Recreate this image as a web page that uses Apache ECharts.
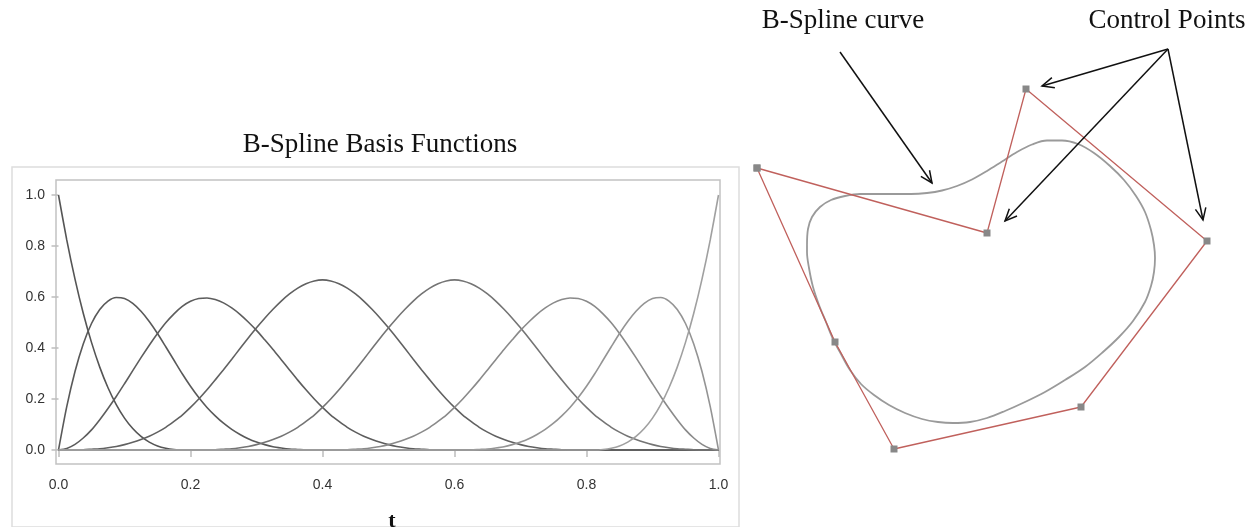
<!DOCTYPE html>
<html>
<head>
<meta charset="utf-8">
<script src="https://cdn.jsdelivr.net/npm/echarts@6/dist/echarts.min.js"></script>
<style>
html, body { margin: 0; padding: 0; background: #fff; }
#chart { width: 1257px; height: 527px; }
</style>
</head>
<body>
<div id="chart"></div>
<script>
// left panel: cubic B-spline basis functions, sampled every 0.0125
var tValues = [0,0.0125,0.025,0.0375,0.05,0.0625,0.075,0.0875,0.1,0.1125,0.125,0.1375,0.15,0.1625,0.175,0.1875,
  0.2,0.2125,0.225,0.2375,0.25,0.2625,0.275,0.2875,0.3,0.3125,0.325,0.3375,0.35,0.3625,0.375,0.3875,
  0.4,0.4125,0.425,0.4375,0.45,0.4625,0.475,0.4875,0.5,0.5125,0.525,0.5375,0.55,0.5625,0.575,0.5875,
  0.6,0.6125,0.625,0.6375,0.65,0.6625,0.675,0.6875,0.7,0.7125,0.725,0.7375,0.75,0.7625,0.775,0.7875,
  0.8,0.8125,0.825,0.8375,0.85,0.8625,0.875,0.8875,0.9,0.9125,0.925,0.9375,0.95,0.9625,0.975,0.9875,1];
var b0 = [1,0.824,0.670,0.536,0.422,0.325,0.244,0.178,0.125,0.084,0.053,0.031,0.016,0.007,0.002,0.000,0,
  0,0,0,0,0,0,0,0,0,0,0,0,0,0,0,0,
  0,0,0,0,0,0,0,0,0,0,0,0,0,0,0,0,
  0,0,0,0,0,0,0,0,0,0,0,0,0,0,0,0,
  0,0,0,0,0,0,0,0,0,0,0,0,0,0,0,0];
var b1 = [0,0.170,0.308,0.416,0.496,0.551,0.584,0.598,0.594,0.575,0.544,0.504,0.457,0.405,0.352,0.299,0.250,
  0.206,0.167,0.134,0.105,0.081,0.061,0.044,0.031,0.021,0.013,0.008,0.004,0.002,0.000,0.000,0,
  0,0,0,0,0,0,0,0,0,0,0,0,0,0,0,0,
  0,0,0,0,0,0,0,0,0,0,0,0,0,0,0,0,
  0,0,0,0,0,0,0,0,0,0,0,0,0,0,0,0];
var b2 = [0,0.006,0.022,0.047,0.079,0.119,0.163,0.210,0.260,0.311,0.362,0.411,0.457,0.499,0.534,0.563,0.583,
  0.594,0.596,0.590,0.577,0.557,0.532,0.502,0.469,0.432,0.394,0.354,0.314,0.274,0.236,0.200,0.167,
  0.137,0.112,0.089,0.070,0.054,0.041,0.030,0.021,0.014,0.009,0.005,0.003,0.001,0.000,0.000,0,
  0,0,0,0,0,0,0,0,0,0,0,0,0,0,0,0,
  0,0,0,0,0,0,0,0,0,0,0,0,0,0,0,0];
var b3 = [0,0.000,0.000,0.001,0.003,0.005,0.009,0.014,0.021,0.030,0.041,0.054,0.070,0.089,0.112,0.137,0.167,
  0.200,0.236,0.275,0.315,0.356,0.398,0.439,0.479,0.517,0.552,0.584,0.612,0.635,0.652,0.663,0.667,
  0.663,0.652,0.635,0.612,0.584,0.552,0.517,0.479,0.439,0.398,0.356,0.315,0.275,0.236,0.200,0.167,
  0.137,0.112,0.089,0.070,0.054,0.041,0.030,0.021,0.014,0.009,0.005,0.003,0.001,0.000,0.000,0,
  0,0,0,0,0,0,0,0,0,0,0,0,0,0,0,0];
var b4 = [0,0,0,0,0,0,0,0,0,0,0,0,0,0,0,0,0,
  0.000,0.000,0.001,0.003,0.005,0.009,0.014,0.021,0.030,0.041,0.054,0.070,0.089,0.112,0.137,0.167,
  0.200,0.236,0.275,0.315,0.356,0.398,0.439,0.479,0.517,0.552,0.584,0.612,0.635,0.652,0.663,0.667,
  0.663,0.652,0.635,0.612,0.584,0.552,0.517,0.479,0.439,0.398,0.356,0.315,0.275,0.236,0.200,0.167,
  0.137,0.112,0.089,0.070,0.054,0.041,0.030,0.021,0.014,0.009,0.005,0.003,0.001,0.000,0.000,0];
var b5 = [0,0,0,0,0,0,0,0,0,0,0,0,0,0,0,0,0,
  0,0,0,0,0,0,0,0,0,0,0,0,0,0,0,0,
  0.000,0.000,0.001,0.003,0.005,0.009,0.014,0.021,0.030,0.041,0.054,0.070,0.089,0.112,0.137,0.167,
  0.200,0.236,0.274,0.314,0.354,0.394,0.432,0.469,0.502,0.532,0.557,0.577,0.590,0.596,0.594,0.583,
  0.563,0.534,0.499,0.457,0.411,0.362,0.311,0.260,0.210,0.163,0.119,0.079,0.047,0.022,0.006,0];
var b6 = [0,0,0,0,0,0,0,0,0,0,0,0,0,0,0,0,0,
  0,0,0,0,0,0,0,0,0,0,0,0,0,0,0,0,
  0,0,0,0,0,0,0,0,0,0,0,0,0,0,0,0,
  0.000,0.000,0.002,0.004,0.008,0.013,0.021,0.031,0.044,0.061,0.081,0.105,0.134,0.167,0.206,0.250,
  0.299,0.352,0.405,0.457,0.504,0.544,0.575,0.594,0.598,0.584,0.551,0.496,0.416,0.308,0.170,0];
var b7 = [0,0,0,0,0,0,0,0,0,0,0,0,0,0,0,0,0,
  0,0,0,0,0,0,0,0,0,0,0,0,0,0,0,0,
  0,0,0,0,0,0,0,0,0,0,0,0,0,0,0,0,
  0,0,0,0,0,0,0,0,0,0,0,0,0,0,0,0,
  0.000,0.002,0.007,0.016,0.031,0.053,0.084,0.125,0.178,0.244,0.325,0.422,0.536,0.670,0.824,1];
var basis = [b0, b1, b2, b3, b4, b5, b6, b7];
var basisColors = ['#555555', '#595959', '#5d5d5d', '#616161', '#747474', '#8a8a8a', '#949494', '#a0a0a0'];

// right panel: control polygon and the closed curve (picture units)
var cpX = [757, 987, 1026, 1207, 1081, 894, 835];
var cpY = [168, 233, 89, 241, 407, 449, 342];
var curveX = [807,808,812,820,831,845,860,877,894,911,927,942,957,972,987,1002,1017,1032,1047,1062,1078,
  1094,1110,1124,1136,1145,1151,1154,1155,1154,1151,1145,1133,1119,1103,1085,1065,1045,1025,1005,987,970,953,
  938,922,905,889,874,861,850,841,833,826,819,813,809,807,807];
var curveY = [245,229,217,207,200,196,194,194,194,194,193,190.5,186,179.5,171,161.5,152,144.5,140.5,140.5,144,
  153,166,180,196,212,230,245,258,272,286,302,321,337,352,367,380,392,402,411,418,422,423,
  422,419,413,405,395,384,370,354,339,322,305,287,268,252,245];

// annotation arrows
var arrowFromX = [840, 1168, 1168, 1168];
var arrowFromY = [52, 49, 49, 49];
var arrowToX = [932, 1042, 1005, 1203];
var arrowToY = [183, 86, 221, 220];

var chart = echarts.init(document.getElementById('chart'));

var serif = 'Liberation Serif';
var sans = 'Liberation Sans';

var series = basis.map(function (vals, i) {
  return {
    type: 'line',
    xAxisIndex: 0,
    yAxisIndex: 0,
    data: tValues.map(function (t, j) { return [t, vals[j]]; }),
    showSymbol: false,
    smooth: 0.25,
    clip: false,
    lineStyle: { color: basisColors[i], width: 1.6 },
    z: 3
  };
});

var polygon = cpX.map(function (x, i) { return [x, cpY[i]]; });
polygon.push([cpX[0], cpY[0]]);

series.push({
  type: 'line',
  xAxisIndex: 3,
  yAxisIndex: 3,
  data: curveX.map(function (x, i) { return [x, curveY[i]]; }),
  showSymbol: false,
  smooth: 0.35,
  clip: false,
  lineStyle: { color: '#9a9a9a', width: 1.8 }
});
series.push({
  type: 'line',
  xAxisIndex: 3,
  yAxisIndex: 3,
  data: polygon,
  symbol: 'rect',
  symbolSize: 7,
  showSymbol: true,
  clip: false,
  itemStyle: { color: '#888888' },
  lineStyle: { color: '#c0605c', width: 1.3 },
  z: 4
});
series.push({
  type: 'custom',
  xAxisIndex: 3,
  yAxisIndex: 3,
  silent: true,
  clip: false,
  data: arrowFromX.map(function (x, i) { return [x, arrowFromY[i], arrowToX[i], arrowToY[i]]; }),
  renderItem: function (params, api) {
    var p0 = api.coord([api.value(0), api.value(1)]);
    var p1 = api.coord([api.value(2), api.value(3)]);
    var ang = Math.atan2(p1[1] - p0[1], p1[0] - p0[0]);
    var len = 13, spread = 0.42;
    var h1 = [p1[0] - len * Math.cos(ang - spread), p1[1] - len * Math.sin(ang - spread)];
    var h2 = [p1[0] - len * Math.cos(ang + spread), p1[1] - len * Math.sin(ang + spread)];
    return {
      type: 'group',
      children: [
        { type: 'line', shape: { x1: p0[0], y1: p0[1], x2: p1[0], y2: p1[1] },
          style: { stroke: '#111', lineWidth: 1.5 } },
        { type: 'polyline', shape: { points: [h1, p1, h2] },
          style: { stroke: '#111', lineWidth: 1.5, fill: null } }
      ]
    };
  },
  z: 5
});

function hiddenAxis(idx) {
  return { type: 'value', gridIndex: idx, show: false, min: 0, max: 1 };
}

chart.setOption({
  animation: false,
  backgroundColor: '#ffffff',
  title: [
    { text: 'B-Spline Basis Functions', left: 380, top: 131, textAlign: 'center', padding: 0,
      textStyle: { fontFamily: serif, fontSize: 27, fontWeight: 'normal', color: '#111' } },
    { text: 't', left: 392, top: 510, textAlign: 'center', padding: 0,
      textStyle: { fontFamily: serif, fontSize: 22, fontWeight: 'bold', color: '#111' } },
    { text: 'B-Spline curve', left: 843, top: 7, textAlign: 'center', padding: 0,
      textStyle: { fontFamily: serif, fontSize: 27, fontWeight: 'normal', color: '#111' } },
    { text: 'Control Points', left: 1167, top: 7, textAlign: 'center', padding: 0,
      textStyle: { fontFamily: serif, fontSize: 27, fontWeight: 'normal', color: '#111' } }
  ],
  grid: [
    // data area of the basis plot
    { left: 58.5, top: 195, width: 660, height: 255 },
    // plot frame
    { left: 56, top: 180, width: 664, height: 284, show: true, borderColor: '#c2c2c2', borderWidth: 1.5,
      backgroundColor: 'transparent' },
    // outer panel frame
    { left: 12, top: 167, width: 727, height: 400, show: true, borderColor: '#dddddd', borderWidth: 1.5,
      backgroundColor: 'transparent' },
    // right drawing
    { left: 740, top: 0, width: 517, height: 527 }
  ],
  xAxis: [
    {
      type: 'value', gridIndex: 0, min: 0, max: 1, interval: 0.2, offset: 14,
      axisLine: { show: false },
      axisTick: { show: true, length: 7, lineStyle: { color: '#bdbdbd', width: 1.5 } },
      axisLabel: { margin: 14, fontFamily: sans, fontSize: 14, color: '#333',
        formatter: function (v) { return v.toFixed(1); } },
      splitLine: { show: false }
    },
    hiddenAxis(1),
    hiddenAxis(2),
    { type: 'value', gridIndex: 3, show: false, min: 740, max: 1257 }
  ],
  yAxis: [
    {
      type: 'value', gridIndex: 0, min: 0, max: 1, interval: 0.2, offset: 2.5,
      axisLine: { show: false },
      axisTick: { show: true, length: 7, lineStyle: { color: '#bdbdbd', width: 1.5 } },
      axisLabel: { margin: 11, fontFamily: sans, fontSize: 14, color: '#333',
        formatter: function (v) { return v.toFixed(1); } },
      splitLine: { show: false }
    },
    hiddenAxis(1),
    hiddenAxis(2),
    { type: 'value', gridIndex: 3, show: false, min: 0, max: 527, inverse: true }
  ],
  series: series
});
</script>
</body>
</html>
